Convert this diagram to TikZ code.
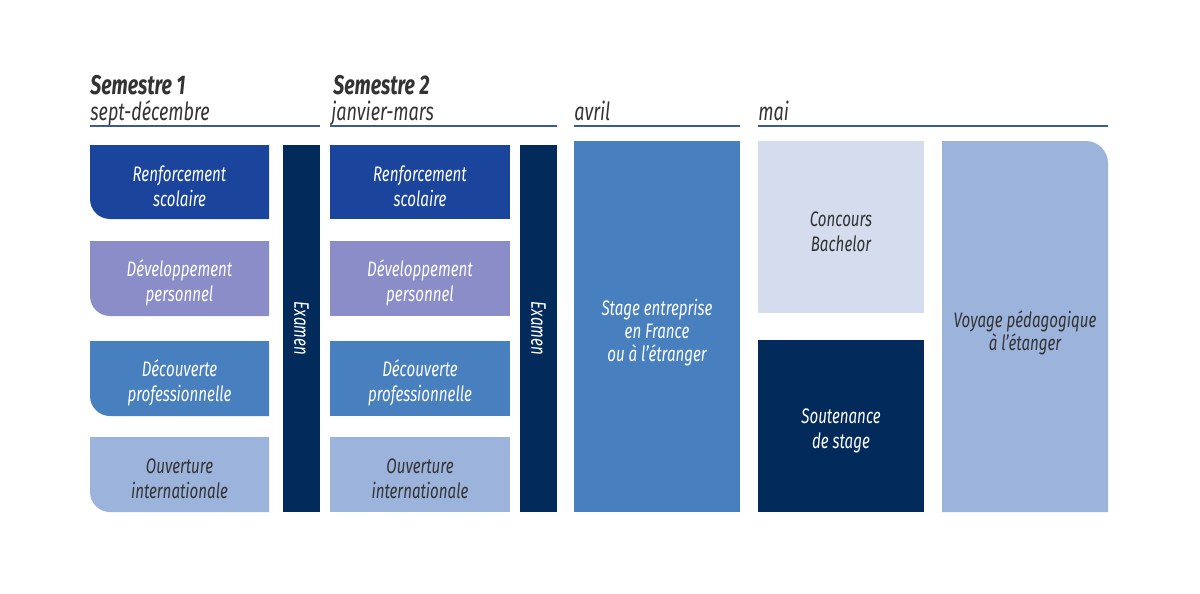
\documentclass[tikz,border=0pt]{standalone}
\usepackage{fontspec}
\setmainfont{Fira Sans}[FakeStretch=0.72]
\usepackage{xcolor}
\usetikzlibrary{positioning}

\definecolor{renf}{HTML}{1B459D}
\definecolor{devp}{HTML}{8A8DC7}
\definecolor{decv}{HTML}{477FBF}
\definecolor{ouvt}{HTML}{9CB3DB}
\definecolor{exam}{HTML}{022B5C}
\definecolor{conc}{HTML}{D4DCEE}
\definecolor{txtgrey}{HTML}{333333}
\definecolor{hline}{HTML}{3C5A94}

\begin{document}
\begin{tikzpicture}[x=0.5pt, y=-0.5pt,
    lbl/.style={inner sep=0pt, align=center, font=\itshape\fontsize{10.5}{12.5}\selectfont},
    head/.style={anchor=base west, inner sep=0pt, text=txtgrey, font=\itshape\fontsize{12.5}{15}\selectfont},
    semhead/.style={head, font=\bfseries\itshape\fontsize{13.5}{16}\selectfont},
    bar/.style={lbl, fill=exam, text=white, rotate=-90, minimum width=183.5pt, minimum height=18.5pt},
    tall/.style={lbl, font=\itshape\fontsize{10.5}{11.5}\selectfont},
    hrule/.style={draw=hline, line width=0.6pt}]
    \fill[white] (0,0) rectangle (1200,594);
    \useasboundingbox (0,0) rectangle (1200,594);

    % headers
    \node[semhead] (sem1) at (90,94) {Semestre 1};
    \node[head] (per1) at (90,120) {sept-décembre};
    \node[semhead] (sem2) at (333,94) {Semestre 2};
    \node[head] (per2) at (331,120) {janvier-mars};
    \node[head] (per3) at (574,120) {avril};
    \node[head] (per4) at (758,120) {mai};
    \draw[hrule] (90,126) -- (320,126);
    \draw[hrule] (330,126) -- (557,126);
    \draw[hrule] (574,126) -- (740,126);
    \draw[hrule] (758,126) -- (1108,126);

    % semestre 1 (rounded lower left corner)
    \fill[renf] (90,145) -- (269,145) -- (269,219) -- (110,219) .. controls (99,219) and (90,210) .. (90,199) -- cycle;
    \fill[devp] (90,241) -- (269,241) -- (269,316) -- (110,316) .. controls (99,316) and (90,307) .. (90,296) -- cycle;
    \fill[decv] (90,341) -- (269,341) -- (269,416) -- (110,416) .. controls (99,416) and (90,407) .. (90,396) -- cycle;
    \fill[ouvt] (90,437) -- (269,437) -- (269,512) -- (110,512) .. controls (99,512) and (90,503) .. (90,492) -- cycle;
    \node[lbl, text=white] (renf1) at (179.5,186) {Renforcement\\scolaire};
    \node[lbl, text=white] (devp1) at (179.5,283) {Développement\\personnel};
    \node[lbl, text=white] (decv1) at (179.5,383) {Découverte\\professionnelle};
    \node[lbl, text=txtgrey] (ouvt1) at (179.5,479) {Ouverture\\internationale};
    \node[bar] (exam1) at (301.5,328.5) {Examen};

    % semestre 2
    \fill[renf] (330,145) rectangle (510,219);
    \fill[devp] (330,241) rectangle (510,316);
    \fill[decv] (330,341) rectangle (510,416);
    \fill[ouvt] (330,437) rectangle (510,512);
    \node[lbl, text=white] (renf2) at (420,186) {Renforcement\\scolaire};
    \node[lbl, text=white] (devp2) at (420,283) {Développement\\personnel};
    \node[lbl, text=white] (decv2) at (420,383) {Découverte\\professionnelle};
    \node[lbl, text=txtgrey] (ouvt2) at (420,479) {Ouverture\\internationale};
    \node[bar] (exam2) at (538.5,328.5) {Examen};

    % avril / mai
    \fill[decv] (574,141) rectangle (740,512);
    \fill[conc] (758,141) rectangle (924,313);
    \fill[exam] (758,340) rectangle (924,512);
    \fill[ouvt] (942,141) -- (1086,141) .. controls (1098,141) and (1108,151) .. (1108,163) -- (1108,512) -- (942,512) -- cycle;
    \node[tall, text=white] (stage) at (657,332.5) {Stage entreprise\\en France\\ou à l’étranger};
    \node[lbl, text=txtgrey] (concours) at (841,231.5) {Concours\\Bachelor};
    \node[lbl, text=white] (soutenance) at (841,431) {Soutenance\\de stage};
    \node[tall, text=txtgrey] (voyage) at (1025,333) {Voyage pédagogique\\à l’étanger};
\end{tikzpicture}
\end{document}
